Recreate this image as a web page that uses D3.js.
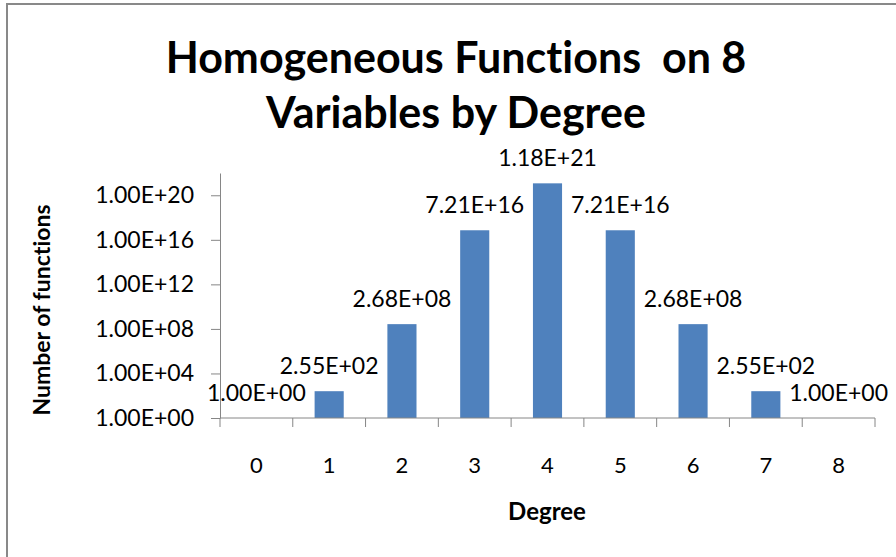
<!DOCTYPE html>
<html>
<head>
<meta charset="utf-8">
<script src="https://cdn.jsdelivr.net/npm/d3@7"></script>
<style>
  body { margin: 0; background: #fff; }
  svg { display: block; font-family: Lato, 'Open Sans', sans-serif; font-variant-ligatures: none; }
</style>
</head>
<body>
<div class="chart"></div>
<script>
const degrees = [0, 1, 2, 3, 4, 5, 6, 7, 8];
const counts = [1, 2.55e2, 2.68e8, 7.21e16, 1.18e21, 7.21e16, 2.68e8, 2.55e2, 1];
const yTicks = [1e0, 1e4, 1e8, 1e12, 1e16, 1e20];
const titleLines = ['Homogeneous Functions  on 8', 'Variables by Degree'];

(function() {
  const width = 896;
  const height = 557;
  const margin = { top: 173, right: 21, bottom: 139, left: 220 };

  // excel style 0.00E+00
  const sci = v => {
    const [m, e] = v.toExponential(2).split('e');
    const n = Math.abs(+e);
    return m + 'E' + (+e < 0 ? '-' : '+') + (n < 10 ? '0' + n : n);
  };

  const svg = d3.select('.chart')
    .append('svg')
    .attr('width', width)
    .attr('height', height);

  // outer chart frame
  svg.append('rect')
    .attr('x', 7)
    .attr('y', 4)
    .attr('width', width + 20)
    .attr('height', height + 20)
    .attr('fill', '#fff')
    .attr('stroke', '#898989')
    .attr('stroke-width', 2);

  const x = d3.scaleBand()
    .domain(degrees)
    .range([margin.left, width - margin.right])
    .paddingInner(0.6)
    .paddingOuter(0.3);

  const y = d3.scaleLog()
    .domain([1, 1e22])
    .range([height - margin.bottom, margin.top]);

  const axisColor = '#868686';

  // title
  svg.append('g')
    .selectAll('text')
    .data(titleLines)
    .enter()
    .append('text')
    .attr('x', 456)
    .attr('y', (d, i) => 73 + i * 55)
    .attr('text-anchor', 'middle')
    .attr('font-size', 43)
    .attr('font-weight', 'bold')
    .attr('fill', '#000')
    .style('white-space', 'pre')
    .text(d => d);

  // bars
  svg.append('g')
    .selectAll('rect')
    .data(degrees)
    .enter()
    .append('rect')
    .attr('x', d => x(d))
    .attr('y', (d, i) => y(counts[i]))
    .attr('width', x.bandwidth())
    .attr('height', (d, i) => y(1) - y(counts[i]))
    .attr('fill', '#4f81bd');

  // y axis
  const yAxis = svg.append('g')
    .attr('transform', `translate(${margin.left},0)`)
    .call(d3.axisLeft(y).tickValues(yTicks).tickFormat(sci).tickSize(9).tickPadding(17).tickSizeOuter(0));
  yAxis.select('.domain').attr('stroke', axisColor);
  yAxis.selectAll('.tick line').attr('stroke', axisColor);
  yAxis.selectAll('.tick text')
    .attr('font-size', 23)
    .attr('font-family', 'Lato, sans-serif')
    .attr('fill', '#000');

  // x axis, ticks between categories
  const base = y(1);
  const step = x.step();
  const x0 = margin.left;
  const bounds = d3.range(degrees.length + 1).map(i => x0 + i * step);
  const xAxis = svg.append('g');
  xAxis.append('line')
    .attr('x1', x0)
    .attr('x2', bounds[bounds.length - 1])
    .attr('y1', base)
    .attr('y2', base)
    .attr('stroke', axisColor);
  xAxis.selectAll('.xt')
    .data(bounds)
    .enter()
    .append('line')
    .attr('class', 'xt')
    .attr('x1', d => d)
    .attr('x2', d => d)
    .attr('y1', base)
    .attr('y2', base + 9)
    .attr('stroke', axisColor);
  xAxis.selectAll('text')
    .data(degrees)
    .enter()
    .append('text')
    .attr('x', d => x(d) + x.bandwidth() / 2)
    .attr('y', base + 55)
    .attr('text-anchor', 'middle')
    .attr('font-size', 22)
    .attr('fill', '#000')
    .text(d => d);

  // data labels
  svg.append('g')
    .selectAll('text')
    .data(degrees)
    .enter()
    .append('text')
    .attr('x', d => x(d) + x.bandwidth() / 2)
    .attr('y', (d, i) => y(counts[i]) - 17)
    .attr('text-anchor', 'middle')
    .attr('font-size', 23)
    .attr('fill', '#000')
    .text((d, i) => sci(counts[i]));

  // axis titles
  svg.append('text')
    .attr('x', 547)
    .attr('y', 520)
    .attr('text-anchor', 'middle')
    .attr('font-size', 24)
    .attr('font-weight', 'bold')
    .text('Degree');

  svg.append('text')
    .attr('transform', 'translate(50,310) rotate(-90)')
    .attr('text-anchor', 'middle')
    .attr('font-size', 23)
    .attr('font-weight', 'bold')
    .text('Number of functions');
})();
</script>
</body>
</html>
